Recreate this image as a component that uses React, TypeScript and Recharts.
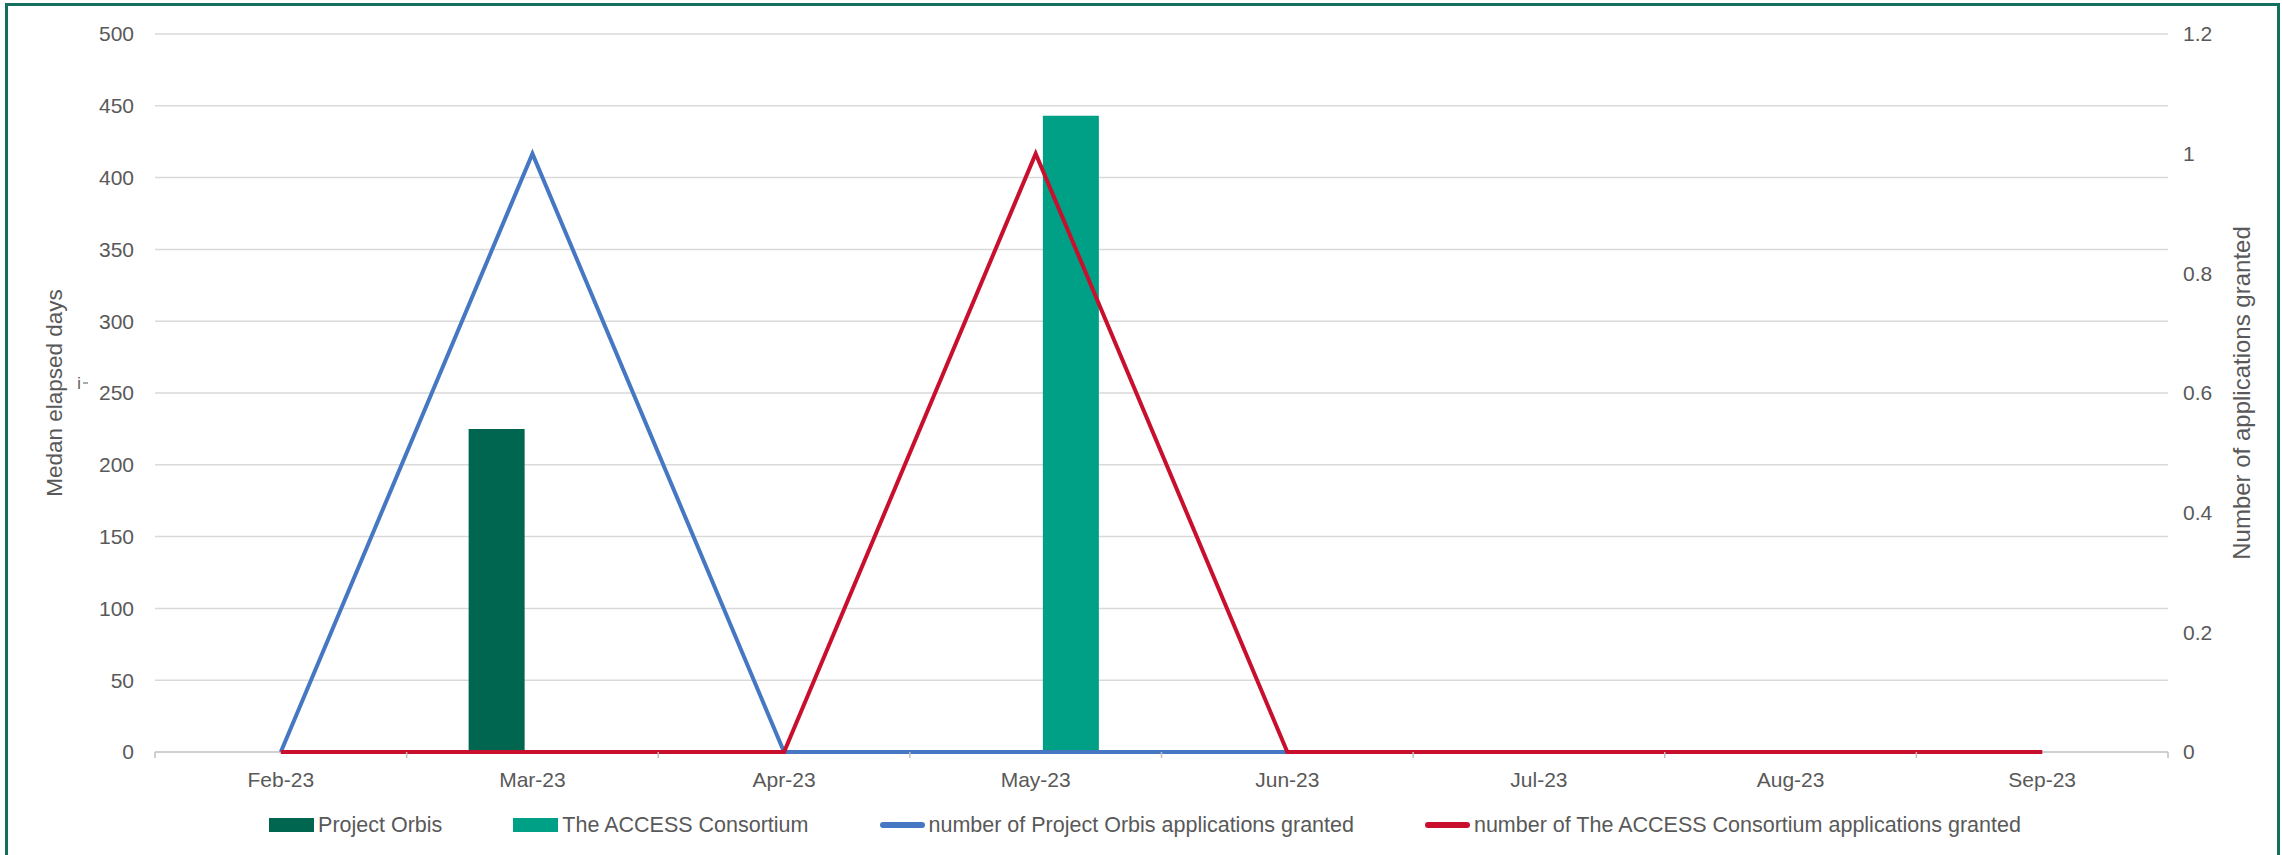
import React from 'react';
import { ComposedChart, Bar, Line, XAxis, YAxis, CartesianGrid, Legend } from 'recharts';

// ---- data ----
const months = ['Feb-23', 'Mar-23', 'Apr-23', 'May-23', 'Jun-23', 'Jul-23', 'Aug-23', 'Sep-23'];
const orbisMedianDays: (number | null)[] = [null, 225, null, null, null, null, null, null];
const accessMedianDays: (number | null)[] = [null, null, null, 443, null, null, null, null];
const orbisGranted = [0, 1, 0, 0, 0, 0, 0, 0];
const accessGranted = [0, 0, 0, 1, 0, 0, 0, 0];
const leftTicks = [0, 50, 100, 150, 200, 250, 300, 350, 400, 450, 500];
const rightTicks = [0, 0.2, 0.4, 0.6, 0.8, 1, 1.2];

const orbisBarName = 'Project Orbis';
const accessBarName = 'The ACCESS Consortium';
const orbisLineName = 'number of Project Orbis applications granted';
const accessLineName = 'number of The ACCESS Consortium applications granted';
const leftTitle = 'Medan elapsed days';
const rightTitle = 'Number of applications granted';

const COLORS = {
  orbisBar: '#006650',
  accessBar: '#00A086',
  orbisLine: '#4677C3',
  accessLine: '#C8102E',
  text: '#595959',
  grid: '#D9D9D9',
  axis: '#BFBFBF',
  frame: '#13705C',
};

const FONT = '"Liberation Sans", Arial, Helvetica, sans-serif';

const data = months.map((m, i) => ({
  month: m,
  orbisDays: orbisMedianDays[i],
  accessDays: accessMedianDays[i],
  orbisN: orbisGranted[i],
  accessN: accessGranted[i],
}));

const legendItems = [
  { name: orbisBarName, color: COLORS.orbisBar, kind: 'bar' },
  { name: accessBarName, color: COLORS.accessBar, kind: 'bar' },
  { name: orbisLineName, color: COLORS.orbisLine, kind: 'line' },
  { name: accessLineName, color: COLORS.accessLine, kind: 'line' },
];

const TICK_SIZE = 6;
const TICK_MARGIN = 14;

const XTick = (props: any) => {
  const { x, y, payload, index, visibleTicksCount } = props;
  const half = payload && typeof payload.offset === 'number' && payload.offset > 0 ? payload.offset : 125.8;
  const axisY = y - TICK_SIZE - TICK_MARGIN;
  const isLast = index === visibleTicksCount - 1;
  return (
    <g>
      <line x1={x - half} x2={x - half} y1={axisY} y2={axisY + TICK_SIZE} stroke={COLORS.axis} strokeWidth={1.5} />
      {isLast && (
        <line x1={x + half} x2={x + half} y1={axisY} y2={axisY + TICK_SIZE} stroke={COLORS.axis} strokeWidth={1.5} />
      )}
      <text x={x} y={y} dy="0.71em" textAnchor="middle" fill={COLORS.text} fontSize={21} fontFamily={FONT}>
        {payload.value}
      </text>
    </g>
  );
};

const AxisTitle = (props: any) => {
  const { viewBox, value, dxFromAxis, size } = props;
  if (!viewBox) return null;
  const cx = viewBox.x + dxFromAxis;
  const cy = viewBox.y + viewBox.height / 2;
  return (
    <text
      x={cx}
      y={cy}
      transform={`rotate(-90, ${cx}, ${cy})`}
      textAnchor="middle"
      dominantBaseline="central"
      fill={COLORS.text}
      fontSize={size}
      fontFamily={FONT}
    >
      {value}
    </text>
  );
};

// grid lines: the bottom (value 0) line doubles as the category axis line, drawn beneath the series
const GridLine = (props: any) => {
  const { x1, x2, y1, y2, index, horizontalPoints } = props;
  let isBottom = false;
  if (Array.isArray(horizontalPoints) && horizontalPoints.length) {
    isBottom = y1 >= Math.max(...horizontalPoints) - 0.5;
  } else {
    isBottom = index === 0;
  }
  return (
    <line
      x1={x1}
      x2={x2}
      y1={y1}
      y2={y2}
      stroke={isBottom ? COLORS.axis : COLORS.grid}
      strokeWidth={1.5}
      fill="none"
    />
  );
};

const LegendContent = () => (
  <div
    style={{
      display: 'flex',
      justifyContent: 'center',
      alignItems: 'center',
      height: 30,
      fontFamily: FONT,
      fontSize: 21.5,
      color: COLORS.text,
      paddingLeft: 8,
      whiteSpace: 'nowrap',
    }}
  >
    {legendItems.map((it, i) => (
      <div key={it.name} style={{ display: 'flex', alignItems: 'center', marginRight: i < legendItems.length - 1 ? 71 : 0 }}>
        {it.kind === 'bar' ? (
          <div style={{ width: 45, height: 14, background: it.color }} />
        ) : (
          <div style={{ width: 45, height: 6, borderRadius: 3, background: it.color }} />
        )}
        <span style={{ marginLeft: 4 }}>{it.name}</span>
      </div>
    ))}
  </div>
);

export default function App() {
  return (
    <div
      style={{
        position: 'absolute',
        left: 0,
        top: 0,
        width: 2282,
        height: 855,
        overflow: 'hidden',
        background: '#fff',
      }}
    >
      <div
        style={{
          position: 'absolute',
          left: 5,
          top: 3,
          width: 2275,
          height: 900,
          border: `3px solid ${COLORS.frame}`,
          boxSizing: 'border-box',
        }}
      />
      <svg style={{ position: 'absolute', left: 0, top: 0 }} width={120} height={855}>
        <text x={79} y={389} textAnchor="middle" fill={COLORS.text} fontSize={16} fontFamily={FONT}>i</text>
        <line x1={83} x2={88} y1={383} y2={383} stroke={COLORS.text} strokeWidth={1} />
      </svg>
      <div style={{ position: 'absolute', left: 0, top: 0 }}>
        <ComposedChart
          width={2282}
          height={855}
          data={data}
          margin={{ top: 34, right: 0, bottom: 15, left: 0 }}
          barSize={56}
          barGap={15}
        >
          <CartesianGrid yAxisId="left" vertical={false} horizontal={<GridLine />} stroke={COLORS.grid} strokeWidth={1.5} />
          <XAxis
            dataKey="month"
            xAxisId={0}
            height={58}
            interval={0}
            tickSize={TICK_SIZE}
            tickMargin={TICK_MARGIN}
            tickLine={false}
            axisLine={false}
            tick={<XTick />}
          />
          <YAxis
            yAxisId="left"
            orientation="left"
            width={155}
            domain={[0, 500]}
            ticks={leftTicks}
            interval={0}
            axisLine={false}
            tickLine={false}
            tickSize={TICK_SIZE}
            tickMargin={15}
            tick={{ fill: COLORS.text, fontSize: 21, fontFamily: FONT }}
            label={<AxisTitle value={leftTitle} dxFromAxis={54} size={22.5} />}
          />
          <YAxis
            yAxisId="right"
            orientation="right"
            width={114}
            domain={[0, 1.2]}
            ticks={rightTicks}
            interval={0}
            axisLine={false}
            tickLine={false}
            tickSize={TICK_SIZE}
            tickMargin={9}
            tickFormatter={(v: number) => String(Math.round(v * 10) / 10)}
            tick={{ fill: COLORS.text, fontSize: 21, fontFamily: FONT, textAnchor: 'start' }}
            label={<AxisTitle value={rightTitle} dxFromAxis={73} size={24} />}
          />
          <Legend verticalAlign="bottom" align="center" content={<LegendContent />} />
          <Bar yAxisId="left" dataKey="orbisDays" name={orbisBarName} fill={COLORS.orbisBar} isAnimationActive={false} />
          <Bar yAxisId="left" dataKey="accessDays" name={accessBarName} fill={COLORS.accessBar} isAnimationActive={false} />
          <Line
            yAxisId="right"
            type="linear"
            dataKey="orbisN"
            name={orbisLineName}
            stroke={COLORS.orbisLine}
            strokeWidth={4}
            dot={false}
            activeDot={false}
            isAnimationActive={false}
          />
          <Line
            yAxisId="right"
            type="linear"
            dataKey="accessN"
            name={accessLineName}
            stroke={COLORS.accessLine}
            strokeWidth={4}
            dot={false}
            activeDot={false}
            isAnimationActive={false}
          />
        </ComposedChart>
      </div>
    </div>
  );
}
